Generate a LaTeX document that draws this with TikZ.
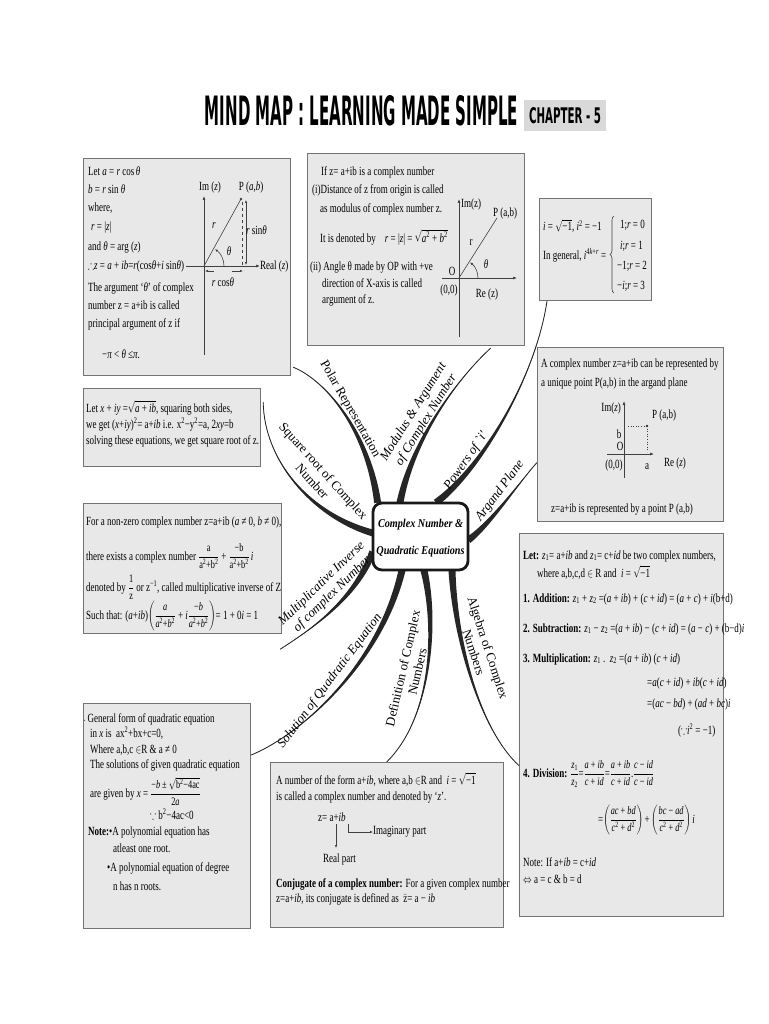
\documentclass[tikz,border=0pt]{standalone}
\usepackage{amsmath,amssymb}
\usepackage{fontspec}
\setmainfont{Liberation Serif}
\newfontfamily\brfont{Liberation Serif}
\newfontfamily\ttlfont{DejaVu Sans}
\usetikzlibrary{calc,arrows.meta,decorations.pathreplacing,backgrounds}
\newsavebox\txbox
\newcommand\bxf{\fontsize{12.5}{14}\selectfont}
\newcommand\It[1]{\textit{#1}}
\newcommand\fr[2]{\ensuremath{\dfrac{\hbox{\fontsize{11.5}{12}\selectfont#1}}{\hbox{\fontsize{11.5}{12}\selectfont#2}}}}
\newcommand\rt[1]{\ensuremath{\sqrt{\hbox{#1}}}}
\newcommand\branch[5]{%
  \fill[brc] (#1) .. controls (#2) and ($(#3)+0.6*(#5)$) .. ($(#4)+(#5)$) -- ($(#4)-(#5)$) .. controls ($(#3)-0.6*(#5)$) and (#2) .. (#1) -- cycle;
  \draw[brc, line width=0.8pt] (#1) .. controls (#2) and (#3) .. (#4);
}
\begin{document}
\begin{tikzpicture}[x=1pt,y=-1pt,
  bx/.style={draw=black!55, line width=1.2pt, fill=black!9, inner sep=0pt, anchor=north west},
  sq/.style={execute at begin node={\begin{lrbox}{\txbox}},
    execute at end node={\end{lrbox}\scalebox{0.72}[1]{\usebox{\txbox}}}},
  tx/.style={anchor=base west, inner sep=0pt, font=\bxf, sq},
  lb/.style={inner sep=0pt, font=\bxf, sq},
  ax/.style={draw=black!75, line width=0.7pt, -{Latex[length=4pt,width=3pt]}},
  thinl/.style={draw=black!75, line width=0.6pt},
  tip/.style={-{Latex[length=3pt,width=2.5pt]}},
  brc/.style={black!85},
  bl/.style={inner sep=0pt, align=center, font=\brfont\fontsize{13}{15}\selectfont},
  bli/.style={bl, font=\brfont\itshape\fontsize{13}{15}\selectfont},
  ctrs/.style={draw=black!90, line width=2.8pt, rounded corners=9pt, fill=white,
    minimum width=95pt, minimum height=67pt, inner sep=0pt,
    font=\brfont\bfseries\itshape\fontsize{12}{21}\selectfont}]
\path[use as bounding box] (0,0) rectangle (768,1024);

% title
\node[inner sep=0pt] (title) at (361.5,111) {\resizebox{313pt}{30pt}{\ttlfont\bfseries MIND MAP : LEARNING MADE SIMPLE}};
\node[fill=black!15, minimum width=82pt, minimum height=31pt, inner sep=0pt] (chap) at (565,115.5) {\resizebox{72pt}{16pt}{\ttlfont\bfseries CHAPTER - 5}};

% boxes
\node[bx, minimum width=207pt, minimum height=217pt] (b1) at (83,158) {};
\node[bx, minimum width=217pt, minimum height=192pt] (b2) at (307,153) {};
\node[bx, minimum width=112pt, minimum height=102pt] (b3) at (539,198) {};
\node[bx, minimum width=186pt, minimum height=174pt] (b4) at (537,347) {};
\node[bx, minimum width=177pt, minimum height=78pt] (b5) at (83,388) {};
\node[bx, minimum width=198pt, minimum height=130pt] (b6) at (83,503) {};
\node[bx, minimum width=204pt, minimum height=383pt] (b7) at (519,533) {};
\node[bx, minimum width=167pt, minimum height=225pt] (b8) at (83,703) {};
\node[bx, minimum width=233pt, minimum height=165pt] (b9) at (270,762) {};

% box 1 : polar
\node[tx] (t11) at (88,176) {Let \It{a} = \It{r} cos\,\It{θ}};
\node[tx] (t12) at (88,194) {\It{b} = \It{r} sin \It{θ}};
\node[tx] (t13) at (88,212) {where,};
\node[tx] (t14) at (91,231) {\It{r} = |\It{z}|};
\node[tx] (t15) at (88,250) {and \It{θ} = arg (\It{z})};
\node[tx] (t16) at (88,269) {$\therefore$\It{z} = \It{a} + \It{ib}=\It{r}(cos\It{θ}+\It{i} sin\It{θ})};
\node[tx] (t17) at (88,291) {The argument `\It{θ}' of complex};
\node[tx] (t18) at (88,309) {number z = a+ib is called};
\node[tx] (t19) at (88,327) {principal argument of z if};
\node[tx] (t110) at (102,358) {−\It{π} < \It{θ} ≤\It{π}.};
\coordinate (o1) at (204,266);
\coordinate (p1) at (241,199);
\draw[ax] (204,355) -- (204,196);
\draw[ax] (186,266) -- (260,266);
\node[lb, anchor=west] (t1re) at (260,266) {Real (\It{z})};
\node[lb] (t1im) at (210,187) {Im (\It{z})};
\node[lb] (t1p) at (251,187) {P (\It{a},\It{b})};
\draw[thinl] (o1) -- (p1);
\fill[black!75] (p1) circle (1.3pt);
\node[lb] (t1r) at (214,226) {\It{r}};
\node[lb] (t1th) at (229,251) {\It{θ}};
\draw[thinl, tip] ($(o1)+(20pt,0)$) arc[start angle=0, end angle=57, radius=20pt];
\draw[thinl, dashed] (242,202) -- (242,265);
\draw[thinl, {Latex[length=3pt,width=2.5pt]}-{Latex[length=3pt,width=2.5pt]}] (246,200) -- (246,265);
\node[lb, anchor=west] (t1rs) at (246,230) {\It{r} sin\It{θ}};
\draw[thinl, tip] (214,271) -- (205,271);
\draw[thinl, tip] (232,271) -- (243,271);
\node[lb] (t1rc) at (223,282) {\It{r} cos\It{θ}};

% box 2 : modulus
\node[tx] (t21) at (321,176) {If z= a+ib is a complex number};
\node[tx] (t22) at (312,194) {(i)Distance of z from origin is called};
\node[tx] (t23) at (320,213) {as modulus of complex number z.};
\node[tx] (t24) at (320,242) {It is denoted by\quad \It{r} = |\It{z}| = \rt{\It{a}\textsuperscript{2} + \It{b}\textsuperscript{2}}};
\node[tx] (t25) at (310,270) {(ii) Angle θ made by OP with +ve};
\node[tx] (t26) at (322,287) {direction of X-axis is called};
\node[tx] (t27) at (322,303) {argument of z.};
\coordinate (o2) at (459,278);
\coordinate (p2) at (497,218);
\draw[ax] (459,337) -- (459,199);
\draw[ax] (442,278) -- (517,278);
\draw[thinl] (o2) -- (p2);
\draw[thinl, tip] ($(o2)+(19pt,0)$) arc[start angle=0, end angle=55, radius=19pt];
\node[lb] (t2im) at (471,204) {Im(z)};
\node[lb] (t2p) at (505,213) {P (a,b)};
\node[lb] (t2r) at (471,243) {r};
\node[lb] (t2o) at (452,271) {O};
\node[lb] (t2th) at (486,264) {\It{θ}};
\node[lb] (t2oo) at (449,290) {(0,0)};
\node[lb] (t2re) at (487,294) {Re (z)};

% box 3 : powers of i
\node[tx] (t31) at (543,231) {\It{i} = \rt{−1}, \It{i}\textsuperscript{2} = −1};
\node[tx] (t32) at (543,259) {In general, \It{i}\textsuperscript{4\It{k}+\It{r}} =};
\draw[thinl, decorate, decoration={brace, amplitude=4pt}] (614,293) -- (614,216);
\node[tx] (t33) at (620,229) {1;\It{r} = 0};
\node[tx] (t34) at (620,249) {\It{i};\It{r} = 1};
\node[tx] (t35) at (617,269) {−1;\It{r} = 2};
\node[tx] (t36) at (617,289) {−\It{i};\It{r} = 3};

% box 4 : argand
\node[tx] (t41) at (541,367) {A complex number z=a+ib can be represented by};
\node[tx] (t42) at (541,386) {a unique point P(a,b) in the argand plane};
\draw[ax] (624,478) -- (624,401);
\draw[ax] (607,454) -- (654,454);
\coordinate (p4) at (647,426);
\fill[black!80] (p4) circle (1.3pt);
\draw[thinl, dotted] (628,426) -- (p4);
\draw[thinl, dotted] (p4) -- (647,452);
\node[lb, anchor=east] (t4im) at (621,408) {Im(\It{z})};
\node[lb] (t4p) at (664,415) {P (a,b)};
\node[lb] (t4b) at (619,434) {b};
\node[lb] (t4o) at (620,446) {O};
\node[lb] (t4oo) at (614,465) {(0,0)};
\node[lb] (t4a) at (647,467) {a};
\node[lb] (t4re) at (675,463) {Re (\It{z})};
\node[tx] (t43) at (551,512) {z=a+ib is represented by a point P (a,b)};

% box 5 : square root
\node[tx] (t51) at (86,412) {Let \It{x} + \It{iy} =\rt{\It{a} + \It{ib}}, squaring both sides,};
\node[tx] (t52) at (86,428) {we get (\It{x}+\It{iy})\textsuperscript{2}= a+\It{ib} i.e. x\textsuperscript{2}−y\textsuperscript{2}=a, 2\It{xy}=b};
\node[tx] (t53) at (86,444) {solving these equations, we get square root of z.};

% box 6 : multiplicative inverse
\node[tx] (t61) at (86,525) {For a non-zero complex number z=a+ib (\It{a} ≠ 0, \It{b} ≠ 0),};
\node[tx] (t62) at (86,560) {there exists a complex number \fr{a}{a\textsuperscript{2}+b\textsuperscript{2}} + \fr{−b}{a\textsuperscript{2}+b\textsuperscript{2}}\,\It{i}};
\node[tx] (t63) at (86,591) {denoted by \fr{1}{z} or z\textsuperscript{−1}, called multiplicative inverse of Z};
\node[tx] (t64) at (86,619) {Such that: (\It{a}+\It{ib})$\left(\fr{\It{a}}{\It{a}\textsuperscript{2}+\It{b}\textsuperscript{2}}\mbox{ + \It{i}}\fr{−\It{b}}{\It{a}\textsuperscript{2}+\It{b}\textsuperscript{2}}\right)$= 1 + 0\It{i} = 1};

% box 7 : algebra
\node[tx] (t71) at (523,559) {\textbf{Let:} \It{z}\textsubscript{1}= a+\It{ib} and \It{z}\textsubscript{1}= c+\It{id} be two complex numbers,};
\node[tx] (t72) at (537,577) {where a,b,c,d $\in$ R and\ \ \It{i} = \rt{−1}};
\node[tx] (t73) at (523,602) {\textbf{1. Addition:} \It{z}\textsubscript{1} + \It{z}\textsubscript{2} =(\It{a} + \It{ib}) + (\It{c} + \It{id}) = (\It{a} + \It{c}) + \It{i}(b+d)};
\node[tx] (t74) at (523,632) {\textbf{2. Subtraction:} \It{z}\textsubscript{1} − \It{z}\textsubscript{2} =(\It{a} + \It{ib}) − (\It{c} + \It{id}) = (\It{a} − \It{c}) + (b−d)\It{i}};
\node[tx] (t75) at (523,662) {\textbf{3. Multiplication:} \It{z}\textsubscript{1} .\ \ \It{z}\textsubscript{2} =(\It{a} + \It{ib}) (\It{c} + \It{id})};
\node[tx] (t76) at (647,686) {=\It{a}(\It{c} + \It{id}) + \It{ib}(\It{c} + \It{id})};
\node[tx] (t77) at (647,707) {=(\It{ac} − \It{bd}) + (\It{ad} + \It{bc})\It{i}};
\node[tx] (t78) at (678,734) {($\because$\It{i}\textsuperscript{2} = −1)};
\node[tx] (t79) at (523,777) {\textbf{4. Division:} $\fr{\It{z}\textsubscript{1}}{\It{z}\textsubscript{2}}\mbox{=}\fr{\It{a} + \It{ib}}{\It{c} + \It{id}}\mbox{=}\fr{\It{a} + \It{ib}}{\It{c} + \It{id}}\mbox{.}\fr{\It{c} − \It{id}}{\It{c} − \It{id}}$};
\node[tx] (t710) at (598,823) {=$\left(\fr{\It{ac} + \It{bd}}{\It{c}\textsuperscript{2} + \It{d}\textsuperscript{2}}\right)\mbox{+}\left(\fr{\It{bc} − \It{ad}}{\It{c}\textsuperscript{2} + \It{d}\textsuperscript{2}}\right)\mbox{\It{i}}$};
\node[tx] (t711) at (523,866) {Note: If a+\It{ib} = c+\It{id}};
\node[tx] (t712) at (523,883) {$\Leftrightarrow$ a = c \& b = d};

% box 8 : quadratic
\node[tx] (t81) at (84,722) {{\tiny\textbullet} General form of quadratic equation};
\node[tx] (t82) at (90,737) {in \It{x} is\ \ ax\textsuperscript{2}+bx+c=0,};
\node[tx] (t83) at (90,753) {Where a,b,c $\in$R \& a ≠ 0};
\node[tx] (t84) at (90,768) {The solutions of given quadratic equation};
\node[tx] (t85) at (90,797) {are given by \It{x} = \fr{−\It{b} ± \rt{b\textsuperscript{2}−4ac}}{2\It{a}}};
\node[tx] (t86) at (150,819) {$\because$ b\textsuperscript{2}−4ac<0};
\node[tx] (t87) at (88,835) {\textbf{Note:}•A polynomial equation has};
\node[tx] (t88) at (113,852) {atleast one root.};
\node[tx] (t89) at (107,871) {•A polynomial equation of degree};
\node[tx] (t810) at (113,890) {n has n roots.};

% box 9 : definition
\node[tx] (t91) at (276,784) {A number of the form a+\It{ib}, where a,b $\in$R and\ \ \It{i} = \rt{−1}};
\node[tx] (t92) at (276,800) {is called a complex number and denoted by `\It{z}'.};
\node[tx] (t93) at (318,821) {z= a+\It{ib}};
\draw[thinl, tip] (336,824) -- (336,848);
\node[tx] (t94) at (323,862) {Real part};
\draw[thinl, tip] (348,824) -- (348,832) -- (373,832);
\node[lb, anchor=west] (t95) at (373,832) {Imaginary part};
\node[tx] (t96) at (276,887) {\textbf{Conjugate of a complex number:} For a given complex number};
\node[tx] (t97) at (276,902) {z=a+\It{ib}, its conjugate is defined as\ \ $\bar{\hbox{z}}$= a − \It{ib}};

% central node
\node[ctrs] (ctr) at (420.5,536.5) {\scalebox{0.85}[1]{\begin{tabular}{@{}c@{}}Complex Number \&\\[6pt]Quadratic Equations\end{tabular}}};

% branch labels
\node[bl, rotate=-60] (l1) at (350,409) {Polar Representation};
\node[bl, rotate=-48] (l2) at (318,476) {Square root of Complex\\Number};
\node[bli, rotate=58] (l3) at (420,416) {Modulus \& Argument\\of Complex Number};
\node[bli, rotate=55] (l4) at (466,461) {Powers of `i'};
\node[bli, rotate=53] (l5) at (500,491) {Argand Plane};
\node[bli, rotate=44] (l6) at (327,589) {Multiplicative Inverse\\of complex Number};
\node[bli, rotate=53] (l7) at (330,681) {Solution of Quadratic Equation};
\node[bl, rotate=77] (l8) at (410,670) {Definition of Complex\\Numbers};
\node[bl, rotate=-72] (l9) at (481,650) {Algebra of Complex\\Numbers};

% branch end points
\coordinate (s1) at ($(b1.south east)+(2,-9)$);
\coordinate (s2) at ($(b5.north east)+(2,14)$);
\coordinate (s3) at ($(b2.south)+(74.5,2)$);
\coordinate (s4) at ($(b3.south west)+(8,0)$);
\coordinate (s5) at ($(b4.west)+(0,28)$);
\coordinate (s6) at ($(b6.south east)+(-2,15)$);
\coordinate (s7) at ($(b8.north east)+(0,52)$);
\coordinate (s8) at ($(b9.north)+(-0.5,0)$);
\coordinate (s9) at ($(b7.west)+(0,40.5)$);
\coordinate (e1) at ($(ctr.north west)+(6,1)$);
\coordinate (e2) at ($(ctr.west)+(1,-3.5)$);
\coordinate (e3) at ($(ctr.north)+(-20.5,1)$);
\coordinate (e4) at ($(ctr.north)+(15.5,1)$);
\coordinate (e5) at ($(ctr.east)+(-1,3.5)$);
\coordinate (e6) at ($(ctr.west)+(1,15.5)$);
\coordinate (e7) at ($(ctr.south)+(-18.5,-1)$);
\coordinate (e8) at ($(ctr.south)+(3.5,-1)$);
\coordinate (e9) at ($(ctr.south)+(31.5,-1)$);

\begin{scope}[on background layer]
\fill[white] (0,0) rectangle (768,1024);
\branch{s1}{325,380}{368,430}{e1}{3.46,-0.5}
\branch{s2}{264,460}{310,515}{e2}{-0.2,3.5}
\branch{s3}{458,378}{412,440}{e3}{3.48,0.3}
\branch{s4}{535,380}{480,470}{e4}{2.1,2.8}
\branch{s5}{525,475}{490,525}{e5}{1.9,2.9}
\branch{s6}{310,630}{355,600}{e6}{3.1,1.6}
\branch{s7}{300,735}{380,665}{e7}{3.4,0.8}
\branch{s8}{430,720}{438,630}{e8}{3.4,-0.8}
\branch{s9}{480,730}{455,640}{e9}{3.5,-0.15}
\end{scope}
\end{tikzpicture}
\end{document}
